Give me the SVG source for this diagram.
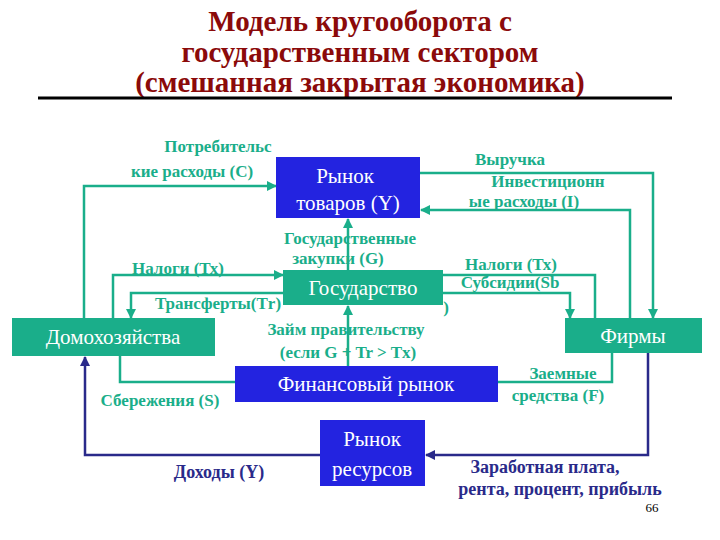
<svg xmlns="http://www.w3.org/2000/svg" width="720" height="540" viewBox="0 0 720 540">
<style>
text{font-family:"Liberation Serif","Times New Roman","DejaVu Serif",serif}
.t{font-weight:bold;fill:#8b0a0a;font-size:29px;text-anchor:middle}
.l{font-weight:bold;fill:#1aae8a;font-size:17px;text-anchor:middle}
.d{font-weight:bold;fill:#2a2a8a;font-size:18px;text-anchor:middle}
.b{fill:#2323e0}.g{fill:#1aae8a}
.w{fill:#fff;font-size:21px;text-anchor:middle}
.c{fill:none;stroke:#1aae8a;stroke-width:2.5}
.k{fill:none;stroke:#2a2a8a;stroke-width:2.5}
</style>
<defs>
<marker id="a" viewBox="0 0 10 10" refX="9" refY="5" markerWidth="4" markerHeight="4" orient="auto"><path d="M0,0L10,5L0,10z" fill="#1aae8a"/></marker>
<marker id="ak" viewBox="0 0 10 10" refX="9" refY="5" markerWidth="4" markerHeight="4" orient="auto"><path d="M0,0L10,5L0,10z" fill="#2a2a8a"/></marker>
</defs>
<rect width="720" height="540" fill="#fff"/>
<g id="title">
<text class="t" x="360" y="31">Модель кругооборота с</text>
<text class="t" x="360" y="62">государственным сектором</text>
<text class="t" x="360" y="92">(смешанная закрытая экономика)</text>
<line x1="38" y1="98" x2="672" y2="98" stroke="#000" stroke-width="3"/>
</g>
<g id="connectors">
<polyline class="c" points="84,318 84,186 276,186" marker-end="url(#a)"/>
<polyline class="c" points="420,173 653,173 653,318" marker-end="url(#a)"/>
<polyline class="c" points="630,318 630,210 421,210" marker-end="url(#a)"/>
<polyline class="c" points="113,318 113,275 283,275" marker-end="url(#a)"/>
<polyline class="c" points="283,293 131,293 131,318" marker-end="url(#a)"/>
<polyline class="c" points="595,318 595,275 443,275"/>
<polyline class="c" points="443,293 570,293 570,318" marker-end="url(#a)"/>
<line class="c" x1="348" y1="270" x2="348" y2="219" marker-end="url(#a)"/>
<line class="c" x1="348" y1="366" x2="348" y2="306" marker-end="url(#a)"/>
<polyline class="c" points="120,356 120,382 235,382"/>
<polyline class="c" points="612,353 612,382 498,382"/>
<polyline class="k" points="648,353 648,455 426,455" marker-end="url(#ak)"/>
<polyline class="k" points="320,455 85,455 85,357" marker-end="url(#ak)"/>
</g>
<g id="goods"><rect class="b" x="276" y="157" width="144" height="61"/><text class="w" x="345" y="183">Рынок</text><text class="w" x="348" y="210">товаров (Y)</text></g>
<g id="gov"><rect class="g" x="283" y="270" width="160" height="35"/><text class="w" x="363" y="295">Государство</text></g>
<g id="households"><rect class="g" x="12" y="318" width="203" height="38"/><text class="w" x="113" y="344">Домохозяйства</text></g>
<g id="firms"><rect class="g" x="565" y="318" width="137" height="35"/><text class="w" x="633" y="343">Фирмы</text></g>
<g id="fin"><rect class="b" x="235" y="366" width="263" height="36"/><text class="w" x="366" y="391">Финансовый рынок</text></g>
<g id="res"><rect class="b" x="320" y="420" width="105" height="66"/><text class="w" x="372" y="446">Рынок</text><text class="w" x="372" y="476">ресурсов</text></g>
<g id="labels">
<text class="l" x="218" y="152">Потребительс</text>
<text class="l" x="192" y="177">кие расходы  (С)</text>
<text class="l" x="510" y="165">Выручка</text>
<text class="l" x="548" y="187">Инвестиционн</text>
<text class="l" x="524" y="207">ые расходы (I)</text>
<text class="l" x="350" y="244">Государственные</text>
<text class="l" x="338" y="264">закупки (G)</text>
<text class="l" x="178" y="274">Налоги (Тх)</text>
<text class="l" x="511" y="270">Налоги (Тх)</text>
<text class="l" x="510" y="288">Субсидии(Sb</text>
<text class="l" x="446" y="313">)</text>
<text class="l" x="218" y="309">Трансферты(Тr)</text>
<text class="l" x="346" y="335">Займ правительству</text>
<text class="l" x="348" y="358">(если G + Tr &gt; Tx)</text>
<text class="l" x="563" y="379">Заемные</text>
<text class="l" x="558" y="401">средства (F)</text>
<text class="l" x="160" y="406">Сбережения (S)</text>
<text class="d" x="219" y="478">Доходы (Y)</text>
<text class="d" x="545" y="473">Заработная плата,</text>
<text class="d" x="560" y="495">рента, процент, прибыль</text>
<text x="652" y="512" font-size="13" text-anchor="middle" fill="#000">66</text>
</g>
</svg>
